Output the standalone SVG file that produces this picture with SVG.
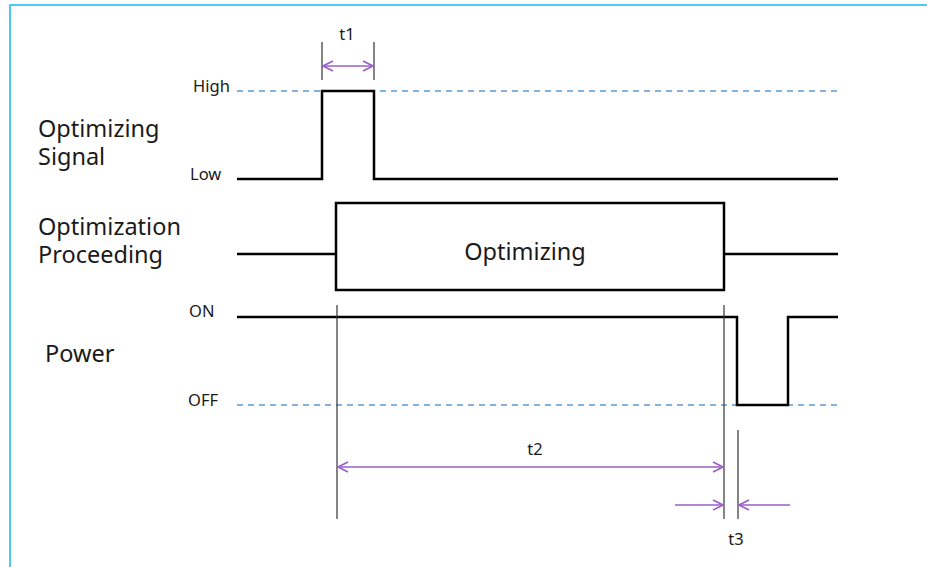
<svg xmlns="http://www.w3.org/2000/svg" width="927" height="567" viewBox="0 0 927 567">
<defs>
<marker id="ah" viewBox="0 0 12 12" refX="11" refY="6" markerWidth="12" markerHeight="12" markerUnits="userSpaceOnUse" orient="auto-start-reverse">
<path d="M1,1 L11,6 L1,11" fill="none" stroke="#9b5fc8" stroke-width="1.6"/>
</marker>
<style>
.lbl{font-family:"Noto Sans","Open Sans",sans-serif;font-size:23.5px;fill:#1a1a1a}
.sm{font-family:"Noto Sans","Open Sans",sans-serif;font-size:16.5px;fill:#1a1a1a}
.sig{fill:none;stroke:#000;stroke-width:2.5;stroke-linejoin:miter}
.dash{stroke:#5b9bd5;stroke-width:1.5;stroke-dasharray:6,5;fill:none}
.guide{stroke:#333;stroke-width:1.2;fill:none}
.dim{stroke:#9b5fc8;stroke-width:1.6;fill:none}
</style>
</defs>
<rect width="927" height="567" fill="#fff"/>
<path d="M10,567 L10,5 L927,5" fill="none" stroke="#4cc8f4" stroke-width="2"/>

<g id="labels">
<text class="lbl" x="38" y="137">Optimizing</text>
<text class="lbl" x="38" y="165">Signal</text>
<text class="lbl" x="38" y="235">Optimization</text>
<text class="lbl" x="38" y="263">Proceeding</text>
<text class="lbl" x="45" y="362">Power</text>
<text class="sm" x="193" y="92">High</text>
<text class="sm" x="190" y="180">Low</text>
<text class="sm" x="189" y="317">ON</text>
<text class="sm" x="188" y="406">OFF</text>
</g>

<g id="levels">
<line class="dash" x1="237" y1="91" x2="838" y2="91"/>
<line class="dash" x1="237" y1="405" x2="838" y2="405"/>
</g>

<g id="optimizing-signal">
<path class="sig" d="M237,179 H322 V91 H374 V179 H838"/>
</g>

<g id="optimization-proceeding">
<path class="sig" d="M237,254 H336"/>
<path class="sig" d="M724,254 H838"/>
<rect class="sig" x="336" y="203" width="388" height="87"/>
<text class="lbl" x="525" y="260" text-anchor="middle">Optimizing</text>
</g>

<g id="power">
<path class="sig" d="M237,317 H737 V405 H788 V317 H838"/>
</g>

<g id="connectors">
<line class="guide" x1="322" y1="42" x2="322" y2="80"/>
<line class="guide" x1="374" y1="42" x2="374" y2="80"/>
<line class="dim" x1="323" y1="66" x2="373" y2="66" marker-start="url(#ah)" marker-end="url(#ah)"/>
<text class="sm" x="347" y="40" text-anchor="middle">t1</text>

<line class="guide" x1="337" y1="305" x2="337" y2="519"/>
<line class="guide" x1="724" y1="305" x2="724" y2="519"/>
<line class="guide" x1="738" y1="430" x2="738" y2="519"/>
<line class="dim" x1="338" y1="467" x2="723" y2="467" marker-start="url(#ah)" marker-end="url(#ah)"/>
<text class="sm" x="535" y="455" text-anchor="middle">t2</text>

<line class="dim" x1="675" y1="505" x2="723" y2="505" marker-end="url(#ah)"/>
<line class="dim" x1="790" y1="505" x2="739" y2="505" marker-end="url(#ah)"/>
<text class="sm" x="736" y="545" text-anchor="middle">t3</text>
</g>
</svg>
